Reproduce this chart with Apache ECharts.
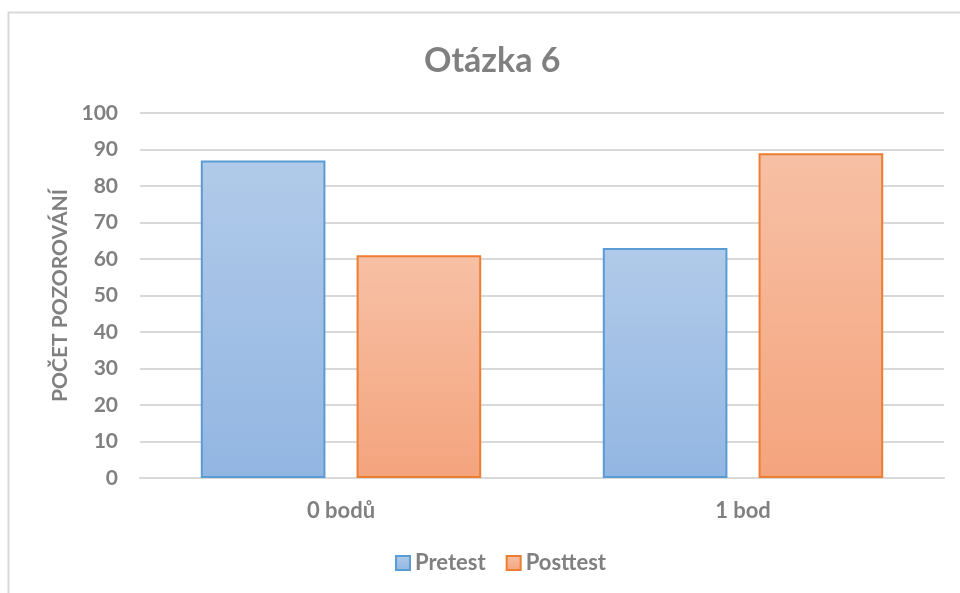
<!DOCTYPE html>
<html>
<head>
<meta charset="utf-8">
<script src="https://cdn.jsdelivr.net/npm/echarts@6/dist/echarts.min.js"></script>
<style>
  html, body { margin: 0; padding: 0; background: #fff; }
  #chart { width: 960px; height: 593px; }
</style>
</head>
<body>
<div id="chart"></div>
<script>
// data
var categories = ['0 bodů', '1 bod'];
var pretest = [87, 63];
var posttest = [61, 89];
var yTicks = { min: 0, max: 100, step: 10 };

var chart = echarts.init(document.getElementById('chart'));

function grad(top, bottom) {
  return new echarts.graphic.LinearGradient(0, 0, 0, 1, [
    { offset: 0, color: top },
    { offset: 1, color: bottom }
  ]);
}

var txt = '#808080';
var font = 'Lato, "Open Sans", sans-serif';

var option = {
  animation: false,
  textStyle: { fontFamily: font },
  graphic: [{
    type: 'rect',
    shape: { x: 8.5, y: 12.5, width: 1000, height: 700 },
    style: { fill: 'none', stroke: '#d9d9d9', lineWidth: 2 },
    silent: true
  }],
  title: {
    text: 'Otázka 6',
    left: 419,
    top: 39,
    textStyle: { color: txt, fontSize: 34, fontWeight: 'bold', fontFamily: font }
  },
  legend: {
    bottom: 14,
    left: 390,
    itemWidth: 14,
    itemHeight: 14,
    itemGap: 20,
    icon: 'rect',
    textStyle: { color: txt, fontSize: 22, fontWeight: 'bold', fontFamily: font },
    data: ['Pretest', 'Posttest']
  },
  grid: { left: 140, right: 16, top: 113, bottom: 115 },
  xAxis: {
    type: 'category',
    data: categories,
    axisLine: { lineStyle: { color: '#d9d9d9', width: 2 } },
    axisTick: { show: false },
    axisLabel: { color: txt, fontSize: 22, fontWeight: 'bold', margin: 22, fontFamily: font }
  },
  yAxis: {
    type: 'value',
    min: yTicks.min,
    max: yTicks.max,
    interval: yTicks.step,
    name: 'POČET POZOROVÁNÍ',
    nameLocation: 'middle',
    nameGap: 66,
    nameRotate: 90,
    nameTextStyle: { color: txt, fontSize: 21, fontWeight: 'bold', fontFamily: font },
    axisLine: { show: false },
    axisTick: { show: false },
    axisLabel: { color: txt, fontSize: 21, fontWeight: 'bold', margin: 22, fontFamily: font },
    splitLine: { lineStyle: { color: '#d9d9d9', width: 2 } }
  },
  series: [{
    name: 'Pretest',
    type: 'bar',
    data: pretest,
    barWidth: '31%',
    barGap: '25%',
    itemStyle: { color: grad('#b1cae9', '#92b6e2'), borderColor: '#5b9bd5', borderWidth: 2 }
  }, {
    name: 'Posttest',
    type: 'bar',
    data: posttest,
    barWidth: '31%',
    itemStyle: { color: grad('#f7c0a5', '#f4a47d'), borderColor: '#ed7d31', borderWidth: 2 }
  }]
};

chart.setOption(option);
</script>
</body>
</html>
